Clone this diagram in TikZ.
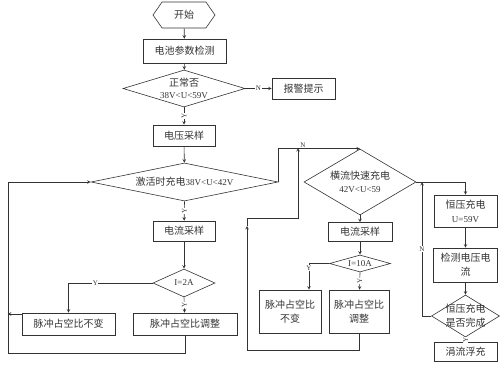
\documentclass[tikz,border=0pt]{standalone}
\usepackage{fontspec}
\setmainfont{Liberation Serif}
\newfontfamily\cjk{Noto Sans CJK SC}
\newcommand\latn[1]{{\rmfamily\fontsize{9}{11}\selectfont #1}}
\usetikzlibrary{shapes.geometric,shapes.symbols,calc}
\begin{document}
\begin{tikzpicture}[>=stealth,x=1pt,y=-1pt,line width=.6pt,color=black!80,
  zh/.style={font=\cjk\fontsize{10}{14}\selectfont,align=center},
  box/.style={zh,draw,minimum width=#1,minimum height=21pt,inner sep=1pt},
  dec/.style={diamond,draw,inner sep=0pt},
  lab/.style={font=\fontsize{7}{7}\selectfont,inner sep=.5pt,fill=white}]
\useasboundingbox (0,0) rectangle (500,365);
% left column
\node[zh,draw,signal,signal to=west and east,signal pointer angle=110,minimum width=62pt,minimum height=26pt,inner sep=0pt] (ks) at (184,15) {开始};
\node[box=83,minimum height=24pt] (jc) at (184.5,51) {电池参数检测};
\node[dec,minimum width=122pt,minimum height=37pt] (d1) at (184,88.5) {};
\node[zh,font=\cjk\fontsize{10}{11.5}\selectfont] (t1) at (d1) {正常否\\\latn{38V<U<59V}};
\node[box=63] (bj) at (303.5,88.5) {报警提示};
\node[box=62] (dy) at (184,135.5) {电压采样};
\node[dec,minimum width=187pt,minimum height=38pt] (d2) at (184.5,182) {};
\node[zh] (t2) at (d2) {激活时充电\latn{38V<U<42V}};
\node[box=62,minimum height=20pt] (dl1) at (184,231) {电流采样};
\node[dec,minimum width=62pt,minimum height=28pt] (d3) at (184,283) {};
\node[zh] (t3) at (d3) {\latn{I=2A}};
\node[box=93,minimum height=22pt] (bb1) at (68.5,324) {脉冲占空比不变};
\node[box=104,minimum height=22pt] (tz1) at (185,324) {脉冲占空比调整};
% middle column
\node[dec,minimum width=112pt,minimum height=66pt] (d4) at (360,182) {};
\node[zh,font=\cjk\fontsize{10}{12.5}\selectfont] (t4) at (d4) {横流快速充电\\\latn{42V<U<59}};
\node[box=64,minimum height=19pt] (dl2) at (360,232) {电流采样};
\node[dec,minimum width=61pt,minimum height=17pt] (d5) at (360,263.5) {};
\node[zh] (t5) at (d5) {\latn{I=10A}};
\node[box=62,minimum height=43pt] (bb2) at (290,311.5) {脉冲占空比\\不变};
\node[box=60,minimum height=43pt] (tz2) at (359,311.5) {脉冲占空比\\调整};
% right column
\node[box=63,minimum height=32pt] (hy) at (465.5,211) {恒压充电\\\latn{U=59V}};
\node[box=64,minimum height=34pt] (jc2) at (465.5,265) {检测电压电\\流};
\node[dec,minimum width=68pt,minimum height=42pt] (d6) at (465.5,316) {};
\node[zh] (t6) at (d6) {恒压充电\\是否完成};
\node[box=63,minimum height=19pt] (fc) at (465.5,352) {涓流浮充};
\coordinate (lft) at (8,182);
\coordinate (c1) at (247,350);
\coordinate (c4) at (247,226);
\coordinate (c2) at (298,218);
\coordinate (c3) at (298,148);
\coordinate (c5) at (422,182);
% connectors
\draw[->] (ks)--(jc);
\draw[->] (jc)--(d1);
\draw[->] (d1.east)--node[lab]{N}(bj);
\draw[->] (d1.south)--node[lab,rotate=90]{Y}(dy);
\draw[->] (dy)--(d2);
\draw[->] (d2.south)--node[lab,rotate=90]{Y}(dl1);
\draw[->] (dl1)--(d3);
\draw[->] (d3.west)-|node[lab,pos=.34]{Y}(bb1.north);
\draw[->] (d3.south)--node[lab,rotate=90]{Y}(tz1);
\draw[->] ($(bb1.west)+(0,-10)$)--+(-14,0);
\draw[->] (tz1.south)--++(0,18)-|(lft)--(d2.west);
\draw[->] (d2.east)|-node[lab,pos=.65,fill=none,above]{N}(d4.north);
\draw[->] (d4.south)--(dl2);
\draw[->] (dl2)--(d5);
\draw[->] (d5.west)-|node[lab,pos=.59]{Y}([xshift=19pt]bb2.north);
\draw[->] (d5.south)--node[lab,rotate=90]{Y}(tz2);
\draw[->] (tz2.south)|-(c1)--(c4);
\draw[->] (c4)|-(c2)--(c3);
\draw[->] (d4.east)-|(hy.north);
\draw[->] (hy)--(jc2);
\draw[->] (jc2)--(d6);
\draw[->] (d6.south)--node[lab,rotate=90]{Y}(fc);
\draw[->] (d6.west)-|node[lab,pos=.75]{N}(c5);
\end{tikzpicture}
\end{document}
